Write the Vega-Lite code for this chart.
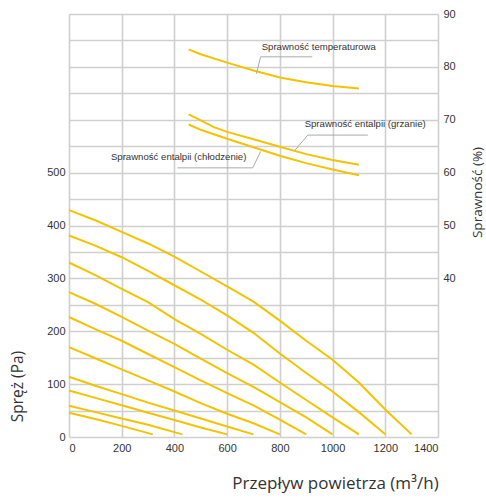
{
  "$schema": "https://vega.github.io/schema/vega-lite/v6.json",
  "autosize": {"type": "none"},
  "padding": {"left": 69, "top": 14, "right": 48, "bottom": 62},
  "width": 369,
  "height": 423,
  "background": "white",
  "view": {"stroke": null},
  "config": {
    "axis": {
      "labelFont": "Liberation Sans",
      "labelFontSize": 11,
      "labelColor": "#333333",
      "titleFont": "Open Sans",
      "titleFontSize": 17,
      "titleFontWeight": "normal",
      "titleColor": "#333333",
      "ticks": false,
      "domain": false,
      "gridColor": "#cfcfcf",
      "gridWidth": 1.6,
      "gridOpacity": 1
    }
  },
  "datasets": {
    "pressure": [
      {"c": 10, "q": 0, "p": 429}, {"c": 10, "q": 100, "p": 410}, {"c": 10, "q": 200, "p": 388}, {"c": 10, "q": 300, "p": 366}, {"c": 10, "q": 400, "p": 341}, {"c": 10, "q": 500, "p": 313}, {"c": 10, "q": 600, "p": 285}, {"c": 10, "q": 700, "p": 256}, {"c": 10, "q": 800, "p": 220}, {"c": 10, "q": 900, "p": 182}, {"c": 10, "q": 1000, "p": 146}, {"c": 10, "q": 1100, "p": 103}, {"c": 10, "q": 1200, "p": 52}, {"c": 10, "q": 1300, "p": 5},
      {"c": 9, "q": 0, "p": 381}, {"c": 9, "q": 100, "p": 362}, {"c": 9, "q": 200, "p": 340}, {"c": 9, "q": 300, "p": 314}, {"c": 9, "q": 400, "p": 287}, {"c": 9, "q": 500, "p": 260}, {"c": 9, "q": 600, "p": 230}, {"c": 9, "q": 700, "p": 197}, {"c": 9, "q": 800, "p": 158}, {"c": 9, "q": 900, "p": 121}, {"c": 9, "q": 1000, "p": 86}, {"c": 9, "q": 1100, "p": 47}, {"c": 9, "q": 1200, "p": 5},
      {"c": 8, "q": 0, "p": 330}, {"c": 8, "q": 100, "p": 306}, {"c": 8, "q": 200, "p": 280}, {"c": 8, "q": 300, "p": 255}, {"c": 8, "q": 400, "p": 223}, {"c": 8, "q": 500, "p": 195}, {"c": 8, "q": 600, "p": 165}, {"c": 8, "q": 700, "p": 137}, {"c": 8, "q": 800, "p": 103}, {"c": 8, "q": 900, "p": 70}, {"c": 8, "q": 1000, "p": 37}, {"c": 8, "q": 1100, "p": 5},
      {"c": 7, "q": 0, "p": 274}, {"c": 7, "q": 100, "p": 252}, {"c": 7, "q": 200, "p": 227}, {"c": 7, "q": 300, "p": 201}, {"c": 7, "q": 400, "p": 176}, {"c": 7, "q": 500, "p": 148}, {"c": 7, "q": 600, "p": 121}, {"c": 7, "q": 700, "p": 95}, {"c": 7, "q": 800, "p": 66}, {"c": 7, "q": 900, "p": 37}, {"c": 7, "q": 1000, "p": 5},
      {"c": 6, "q": 0, "p": 227}, {"c": 6, "q": 100, "p": 204}, {"c": 6, "q": 200, "p": 182}, {"c": 6, "q": 300, "p": 157}, {"c": 6, "q": 400, "p": 132}, {"c": 6, "q": 500, "p": 107}, {"c": 6, "q": 600, "p": 83}, {"c": 6, "q": 700, "p": 60}, {"c": 6, "q": 800, "p": 33}, {"c": 6, "q": 900, "p": 5},
      {"c": 5, "q": 0, "p": 170}, {"c": 5, "q": 100, "p": 149}, {"c": 5, "q": 200, "p": 128}, {"c": 5, "q": 300, "p": 107}, {"c": 5, "q": 400, "p": 86}, {"c": 5, "q": 500, "p": 64}, {"c": 5, "q": 600, "p": 44}, {"c": 5, "q": 700, "p": 26}, {"c": 5, "q": 800, "p": 5},
      {"c": 4, "q": 0, "p": 114}, {"c": 4, "q": 100, "p": 97}, {"c": 4, "q": 200, "p": 81}, {"c": 4, "q": 300, "p": 65}, {"c": 4, "q": 400, "p": 50}, {"c": 4, "q": 500, "p": 35}, {"c": 4, "q": 600, "p": 20}, {"c": 4, "q": 700, "p": 5},
      {"c": 3, "q": 0, "p": 88}, {"c": 3, "q": 100, "p": 74}, {"c": 3, "q": 200, "p": 60}, {"c": 3, "q": 300, "p": 46}, {"c": 3, "q": 400, "p": 32}, {"c": 3, "q": 500, "p": 18}, {"c": 3, "q": 600, "p": 5},
      {"c": 2, "q": 0, "p": 59}, {"c": 2, "q": 100, "p": 47}, {"c": 2, "q": 200, "p": 35}, {"c": 2, "q": 300, "p": 23}, {"c": 2, "q": 430, "p": 5},
      {"c": 1, "q": 0, "p": 46}, {"c": 1, "q": 100, "p": 34}, {"c": 1, "q": 200, "p": 21}, {"c": 1, "q": 318, "p": 5}
    ],
    "efficiency": [
      {"s": "temperaturowa", "q": 454, "e": 83.3}, {"s": "temperaturowa", "q": 500, "e": 82.4}, {"s": "temperaturowa", "q": 600, "e": 80.8}, {"s": "temperaturowa", "q": 700, "e": 79.3}, {"s": "temperaturowa", "q": 800, "e": 78.0}, {"s": "temperaturowa", "q": 900, "e": 77.1}, {"s": "temperaturowa", "q": 1000, "e": 76.4}, {"s": "temperaturowa", "q": 1100, "e": 75.9},
      {"s": "grzanie", "q": 454, "e": 71.0}, {"s": "grzanie", "q": 500, "e": 69.9}, {"s": "grzanie", "q": 550, "e": 68.6}, {"s": "grzanie", "q": 600, "e": 67.7}, {"s": "grzanie", "q": 700, "e": 66.3}, {"s": "grzanie", "q": 800, "e": 64.9}, {"s": "grzanie", "q": 900, "e": 63.5}, {"s": "grzanie", "q": 1000, "e": 62.4}, {"s": "grzanie", "q": 1100, "e": 61.5},
      {"s": "chlodzenie", "q": 454, "e": 69.1}, {"s": "chlodzenie", "q": 500, "e": 68.1}, {"s": "chlodzenie", "q": 600, "e": 66.4}, {"s": "chlodzenie", "q": 700, "e": 64.8}, {"s": "chlodzenie", "q": 800, "e": 63.2}, {"s": "chlodzenie", "q": 900, "e": 61.8}, {"s": "chlodzenie", "q": 1000, "e": 60.6}, {"s": "chlodzenie", "q": 1100, "e": 59.5}
    ],
    "leaders": [
      {"s": "t", "o": 1, "q": 923, "e": 81.9}, {"s": "t", "o": 2, "q": 727, "e": 81.9}, {"s": "t", "o": 3, "q": 711, "e": 78.7},
      {"s": "h", "o": 1, "q": 1134, "e": 67.1}, {"s": "h", "o": 2, "q": 906, "e": 67.1}, {"s": "h", "o": 3, "q": 856, "e": 64.15},
      {"s": "c", "o": 1, "q": 411, "e": 60.9}, {"s": "c", "o": 2, "q": 697, "e": 60.9}, {"s": "c", "o": 3, "q": 727, "e": 64.0}
    ],
    "labels": [
      {"side": "left", "q": 731, "e": 83.8, "t": "Sprawność temperaturowa"},
      {"side": "left", "q": 894, "e": 69.25, "t": "Sprawność entalpii (grzanie)"},
      {"side": "right", "q": 673, "e": 62.9, "t": "Sprawność entalpii (chłodzenie)"}
    ]
  },
  "layer": [
    {
      "data": {"name": "pressure"},
      "mark": {"type": "line", "color": "#F3C300", "strokeWidth": 2},
      "encoding": {
        "x": {
          "field": "q", "type": "quantitative",
          "scale": {"domain": [0, 1400], "nice": false},
          "axis": {
            "values": [0, 100, 200, 300, 400, 500, 600, 700, 800, 900, 1000, 1100, 1200, 1300, 1400],
            "labelExpr": "datum.value % 200 === 0 ? datum.label : ''",
            "format": "d",
            "labelPadding": 5,
            "title": "Przepływ powietrza (m³/h)",
            "titleX": 266, "titleY": 46, "titleAlign": "center", "titleBaseline": "middle", "titleAnchor": "start"
          }
        },
        "y": {
          "field": "p", "type": "quantitative",
          "scale": {"domain": [0, 800], "nice": false},
          "axis": {
            "values": [0, 50, 100, 150, 200, 250, 300, 350, 400, 450, 500, 550, 600, 650, 700, 750, 800],
            "labelExpr": "(datum.value % 100 === 0 && datum.value <= 500) ? datum.label : ''",
            "format": "d",
            "labelPadding": 4,
            "title": "Spręż (Pa)",
            "titleFontSize": 15.5,
            "titleX": -51.5, "titleY": 372, "titleAngle": -90, "titleAlign": "center", "titleBaseline": "middle", "titleAnchor": "start"
          }
        },
        "detail": {"field": "c", "type": "nominal"}
      }
    },
    {
      "layer": [
        {
          "data": {"name": "efficiency"},
          "mark": {"type": "line", "color": "#F3C300", "strokeWidth": 2},
          "encoding": {
            "x": {"field": "q", "type": "quantitative"},
            "y": {
              "field": "e", "type": "quantitative",
              "scale": {"domain": [10, 90], "nice": false},
              "axis": {
                "orient": "right",
                "values": [40, 50, 60, 70, 80, 90],
                "grid": false,
                "labelPadding": 5,
                "title": "Sprawność (%)",
                "titleFontSize": 13.5,
                "titleX": 39, "titleY": 178, "titleAngle": -90, "titleAlign": "center", "titleBaseline": "middle", "titleAnchor": "start"
              }
            },
            "detail": {"field": "s", "type": "nominal"}
          }
        },
        {
          "data": {"name": "leaders"},
          "mark": {"type": "line", "color": "#aaaaaa", "strokeWidth": 1},
          "encoding": {
            "x": {"field": "q", "type": "quantitative"},
            "y": {"field": "e", "type": "quantitative"},
            "detail": {"field": "s", "type": "nominal"},
            "order": {"field": "o", "type": "quantitative"}
          }
        },
        {
          "data": {"name": "labels"},
          "transform": [{"filter": "datum.side === 'left'"}],
          "mark": {"type": "text", "align": "left", "baseline": "middle", "font": "Liberation Sans", "fontSize": 9.6, "color": "#333333"},
          "encoding": {
            "x": {"field": "q", "type": "quantitative"},
            "y": {"field": "e", "type": "quantitative"},
            "text": {"field": "t"}
          }
        },
        {
          "data": {"name": "labels"},
          "transform": [{"filter": "datum.side === 'right'"}],
          "mark": {"type": "text", "align": "right", "baseline": "middle", "font": "Liberation Sans", "fontSize": 9.6, "color": "#333333"},
          "encoding": {
            "x": {"field": "q", "type": "quantitative"},
            "y": {"field": "e", "type": "quantitative"},
            "text": {"field": "t"}
          }
        }
      ]
    }
  ],
  "resolve": {"scale": {"y": "independent"}}
}
